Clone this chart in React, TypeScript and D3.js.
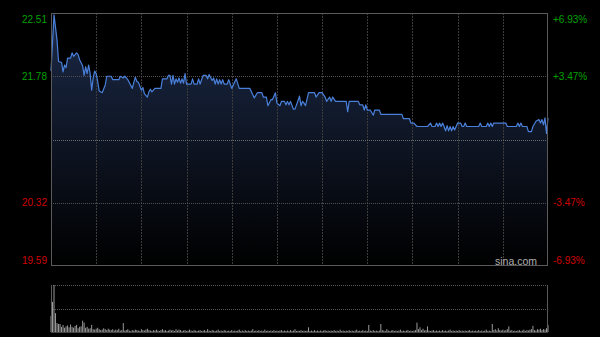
import React from "react";
import * as d3 from "d3";

const minutes = [0,2,4,5,7,8,9,10,11,13,14,15,17,18,19,21,22,23,24,25,26,27,28,29,30,31,32,34,36,37,40,41,45,46,48,49,51,54,55,56,57,58,60,61,62,64,65,66,67,69,73,74,77,78,79,80,81,82,83,84,85,86,87,88,89,90,93,94,95,97,98,99,101,103,104,105,107,108,109,110,111,112,113,114,115,117,118,119,120,123,125,132,135,137,140,141,143,144,146,147,149,150,152,153,155,156,157,158,159,161,162,165,166,167,168,169,171,175,176,178,180,182,183,185,186,187,189,196,197,198,204,205,207,208,209,210,212,214,215,218,219,233,234,238,239,241,243,250,252,253,255,256,257,258,259,260,261,262,263,264,265,266,267,268,269,270,272,273,274,275,276,284,285,286,289,290,291,292,293,294,302,303,309,310,311,312,313,316,317,319,320,322,324,325,326,327,328,329,330];
const prices = [21.84,22.49,22.20,21.95,21.94,21.83,21.91,21.88,21.99,21.99,22.05,22.01,22.05,22.03,21.97,21.90,21.79,21.89,21.81,21.91,21.81,21.62,21.76,21.84,21.81,21.72,21.61,21.59,21.68,21.78,21.78,21.74,21.74,21.78,21.76,21.78,21.74,21.64,21.71,21.77,21.72,21.71,21.62,21.65,21.58,21.54,21.60,21.63,21.60,21.64,21.64,21.75,21.75,21.79,21.79,21.69,21.79,21.69,21.75,21.71,21.76,21.70,21.75,21.70,21.81,21.69,21.69,21.75,21.69,21.69,21.75,21.69,21.79,21.79,21.75,21.80,21.73,21.76,21.69,21.75,21.69,21.74,21.69,21.74,21.69,21.69,21.74,21.69,21.64,21.75,21.64,21.64,21.53,21.59,21.59,21.54,21.54,21.44,21.51,21.51,21.59,21.47,21.44,21.49,21.49,21.45,21.49,21.45,21.49,21.40,21.40,21.55,21.44,21.49,21.47,21.44,21.59,21.59,21.54,21.59,21.59,21.54,21.49,21.54,21.49,21.54,21.49,21.49,21.37,21.49,21.49,21.45,21.45,21.39,21.45,21.39,21.39,21.33,21.39,21.39,21.34,21.34,21.29,21.29,21.24,21.24,21.20,21.20,21.24,21.20,21.20,21.24,21.20,21.24,21.20,21.24,21.20,21.15,21.21,21.15,21.20,21.15,21.20,21.16,21.20,21.24,21.24,21.20,21.20,21.24,21.20,21.20,21.24,21.20,21.20,21.24,21.20,21.24,21.20,21.24,21.24,21.20,21.20,21.24,21.20,21.24,21.20,21.20,21.14,21.14,21.20,21.26,21.28,21.24,21.28,21.22,21.30,21.12,21.30];

const volumes = [
  340,640,1000,400,190,170,170,110,150,90,120,140,100,160,110,90,130,150,80,110,
  120,240,200,90,110,70,80,150,60,50,70,90,60,40,50,80,60,40,70,50,
  40,60,30,50,40,70,30,40,190,30,40,60,30,20,40,30,50,40,30,20,
  60,40,30,50,70,40,30,20,40,30,50,30,20,40,60,30,40,20,30,50,
  30,40,20,60,30,50,40,20,30,40,20,30,50,30,20,40,30,20,30,40,
  20,30,40,20,60,30,20,40,30,20,30,50,20,30,20,40,30,20,30,20,
  40,20,30,20,30,50,20,30,20,40,20,30,20,30,60,20,30,20,40,20,
  30,20,50,20,30,20,30,20,40,20,30,20,30,40,20,30,20,30,20,40,
  20,30,60,20,30,20,40,20,30,20,30,100,20,30,20,40,20,30,20,30,
  20,30,40,20,30,20,30,20,40,20,30,20,50,20,30,20,30,20,40,20,
  30,20,30,50,20,30,20,40,20,30,20,150,30,20,40,20,30,20,30,170,
  40,30,20,60,30,20,30,40,20,30,20,30,50,20,30,20,30,40,20,30,
  20,30,40,200,60,100,40,70,30,40,120,30,20,30,40,20,30,20,30,20,
  40,20,30,20,30,50,20,30,20,30,20,40,20,30,20,30,20,30,40,20,
  30,20,30,20,40,20,30,20,30,50,20,30,20,170,40,60,30,80,40,30,
  50,30,40,60,120,30,40,20,30,20,30,40,20,30,50,20,40,30,50,60,
  130,40,30,60,50,70,40,60,50,80,150
];

const priceTicks = [22.51, 21.78, 20.32, 19.59];
const pctLabels = ["+6.93%", "+3.47%", "-3.47%", "-6.93%"];
const prevClose = 21.05;
const halfHours = [30, 60, 90, 120, 150, 180, 210, 240, 270, 300];
const totalMinutes = 330;
const volMax = 1000;

export default function App() {
  const L = 51, R = 548, T = 13, B = 266;
  const VT = 285, VB = 332;
  const x = d3.scaleLinear().domain([0, totalMinutes]).range([L, R]);
  const y = d3.scaleLinear().domain([19.59, 22.51]).range([B, T]);
  const vy = d3.scaleLinear().domain([0, volMax]).range([VB, VT]);

  const pts = minutes.map((m, i) => [m, prices[i]] as [number, number]);
  const line = d3.line<[number, number]>().x(d => x(d[0])).y(d => y(d[1]))(pts) || "";
  const area = d3.area<[number, number]>().x(d => x(d[0])).y0(B).y1(d => y(d[1]))(pts) || "";

  const labelY = (v: number) => Math.min(260, Math.max(19, y(v))) + 3.6;
  const font = "'Liberation Sans', Arial, sans-serif";

  return (
    <svg width={600} height={337} style={{ position: "absolute", left: 0, top: 0, background: "#000" }}>
      <defs>
        <linearGradient id="fillG" gradientUnits="userSpaceOnUse" x1={0} y1={T} x2={0} y2={B}>
          <stop offset="0%" stopColor="rgb(28,42,72)" />
          <stop offset="100%" stopColor="rgb(0,0,0)" />
        </linearGradient>
      </defs>
      <rect x={0} y={0} width={600} height={337} fill="#000" />
      <path d={area} fill="url(#fillG)" />
      {halfHours.map(m => (
        <line key={m} x1={Math.round(x(m)) + 0.5} x2={Math.round(x(m)) + 0.5} y1={T} y2={B}
          stroke="#3c3c3c" strokeDasharray="2,1" />
      ))}
      {[priceTicks[1], priceTicks[2]].map(v => (
        <line key={v} x1={L} x2={R} y1={Math.round(y(v)) + 0.5} y2={Math.round(y(v)) + 0.5}
          stroke="#505050" strokeDasharray="1,1" />
      ))}
      <line x1={L} x2={R} y1={Math.round(y(prevClose)) + 0.5} y2={Math.round(y(prevClose)) + 0.5}
        stroke="#6a6a6a" strokeDasharray="1,1" />
      <path d={line} fill="none" stroke="#4a80da" strokeWidth={1.2} strokeLinejoin="round" />
      <rect x={L + 0.5} y={T + 0.5} width={R - L - 1} height={B - T - 1} fill="none" stroke="#5a5a5a" />
      {priceTicks.map((v, i) => (
        <text key={"l" + v} x={47} y={labelY(v)} textAnchor="end" fontFamily={font} fontSize={10}
          fill={i < 2 ? "#00a000" : "#d00000"}>{v.toFixed(2)}</text>
      ))}
      {priceTicks.map((v, i) => (
        <text key={"r" + v} x={553} y={labelY(v)} textAnchor="start" fontFamily={font} fontSize={10}
          fill={i < 2 ? "#00a000" : "#d00000"}>{pctLabels[i]}</text>
      ))}
      <text x={537} y={265} textAnchor="end" fontFamily={font} fontSize={10.5} fill="#b0b0b0">sina.com</text>

      {/* volume panel */}
      <line x1={L} x2={R} y1={VT + 0.5} y2={VT + 0.5} stroke="#555" strokeDasharray="1,1" />
      <line x1={L} x2={R} y1={Math.round(vy(volMax / 2)) + 0.5} y2={Math.round(vy(volMax / 2)) + 0.5} stroke="#555" strokeDasharray="1,1" />
      {volumes.map((v, i) => (
        <line key={"v" + i} x1={x(i)} x2={x(i)} y1={VB} y2={vy(v)} stroke="#9a9a9a" strokeWidth={1} />
      ))}
      <line x1={L + 0.5} x2={L + 0.5} y1={VT} y2={VB} stroke="#5a5a5a" />
      <line x1={R - 0.5} x2={R - 0.5} y1={VT} y2={VB} stroke="#5a5a5a" />
      <line x1={L} x2={R} y1={VB + 0.5} y2={VB + 0.5} stroke="#444" />
    </svg>
  );
}
